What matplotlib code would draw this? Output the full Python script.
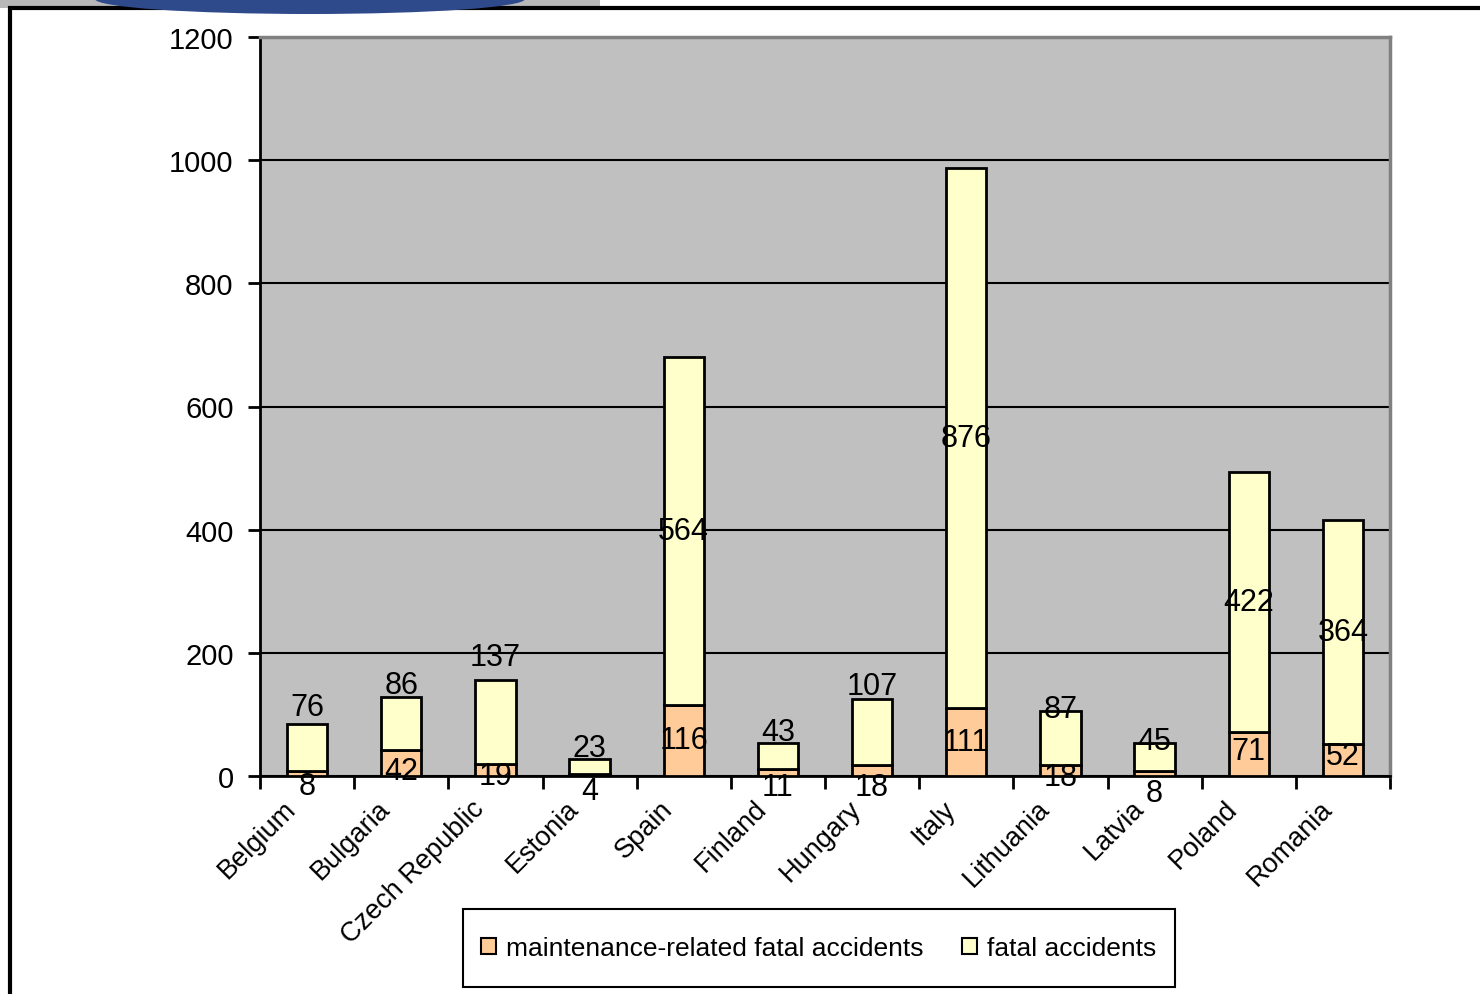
import numpy as np
import matplotlib.pyplot as plt
import matplotlib.transforms as mtrans
from matplotlib.patches import Rectangle, Ellipse

plt.rcParams['font.family'] = ['Liberation Sans', 'DejaVu Sans']

# data
countries = ['Belgium', 'Bulgaria', 'Czech Republic', 'Estonia', 'Spain', 'Finland',
             'Hungary', 'Italy', 'Lithuania', 'Latvia', 'Poland', 'Romania']
maintenance = [8, 42, 19, 4, 116, 11, 18, 111, 18, 8, 71, 52]
fatal = [76, 86, 137, 23, 564, 43, 107, 876, 87, 45, 422, 364]
y_ticks = [0, 200, 400, 600, 800, 1000, 1200]

# label nudges (points) - excel moved the small ones around
nudge_bot = [-9, -6, -4, -12, 0, -10, -12, 0, -5, -14, 2, 3]
nudge_top = [29, 28, 47, 13, 0, 17, 33, 0, 21, 12, 0, 0]

c_maint = '#FFCC99'
c_fatal = '#FFFFCC'

fig = plt.figure(figsize=(14.8, 9.95), dpi=100)
ax = fig.add_axes([260/1480, 1-777/995, 1130/1480, 739/995])
ax.set_facecolor('#C0C0C0')

x = np.arange(len(countries))
b1 = ax.bar(x, maintenance, width=0.43, color=c_maint, edgecolor='black', linewidth=2,
            label='maintenance-related fatal accidents', zorder=3)
b2 = ax.bar(x, fatal, width=0.43, bottom=maintenance, color=c_fatal, edgecolor='black',
            linewidth=2, label='fatal accidents', zorder=3)

for i in range(len(countries)):
    ax.annotate(str(maintenance[i]), (x[i], maintenance[i]/2), xytext=(0, nudge_bot[i]),
                textcoords='offset points', ha='center', va='center', fontsize=22, zorder=5)
    ax.annotate(str(fatal[i]), (x[i], maintenance[i] + fatal[i]/2), xytext=(0, nudge_top[i]),
                textcoords='offset points', ha='center', va='center', fontsize=22, zorder=5)

ax.set_ylim(0, 1200)
ax.set_xlim(-0.5, len(countries) - 0.5)
ax.set_yticks(y_ticks)
ax.set_yticklabels([str(v) for v in y_ticks], fontsize=21)
ax.yaxis.grid(True, color='black', linewidth=1.5, zorder=1)
ax.set_axisbelow(True)
ax.tick_params(axis='y', length=9, width=2, pad=10)

ax.set_xticks(x)
ax.set_xticklabels(countries, rotation=45, ha='right', rotation_mode='anchor', fontsize=19.5)
ax.set_xticks(np.arange(-0.5, len(countries), 1), minor=True)
ax.tick_params(axis='x', which='major', length=0, pad=18)
ax.tick_params(axis='x', which='minor', length=9, width=2)
shift = mtrans.ScaledTranslation(-24/100, 6/100, fig.dpi_scale_trans)
for lab in ax.get_xticklabels():
    lab.set_transform(lab.get_transform() + shift)

for s in ['left', 'bottom']:
    ax.spines[s].set_linewidth(2)
    ax.spines[s].set_color('black')
for s in ['top', 'right']:
    ax.spines[s].set_linewidth(2.5)
    ax.spines[s].set_color('#808080')

# legend box drawn by hand so its size matches
fig.patches.append(Rectangle((463/1480, 1-988/995), 712/1480, 78/995, transform=fig.transFigure,
                             facecolor='white', edgecolor='black', linewidth=1.5))
leg = fig.legend(handles=[b1, b2], loc='center', bbox_to_anchor=(819/1480, 1-949/995),
                 ncol=2, fontsize=19, frameon=False,
                 handlelength=0.55, handleheight=0.55, handletextpad=0.4, columnspacing=1.45,
                 borderpad=0, borderaxespad=0)
for h in leg.legend_handles:
    h.set_linewidth(1.5)

# outer frame + bit of slide decoration at the top
fig.patches.append(Rectangle((10/1480, -0.01), 1.1, 1 - 9/995 + 0.01, transform=fig.transFigure,
                             fill=False, edgecolor='black', linewidth=3))
fig.patches.append(Rectangle((0, 1-9/995), 600/1480, 9/995, transform=fig.transFigure,
                             facecolor='#B8B8B8', edgecolor='none', zorder=0))
fig.patches.append(Ellipse((310/1480, 1.0), 430/1480, 30/995, transform=fig.transFigure,
                           facecolor='#2E4A8A', edgecolor='none', zorder=1))

fig.savefig('out.png', dpi=100)
